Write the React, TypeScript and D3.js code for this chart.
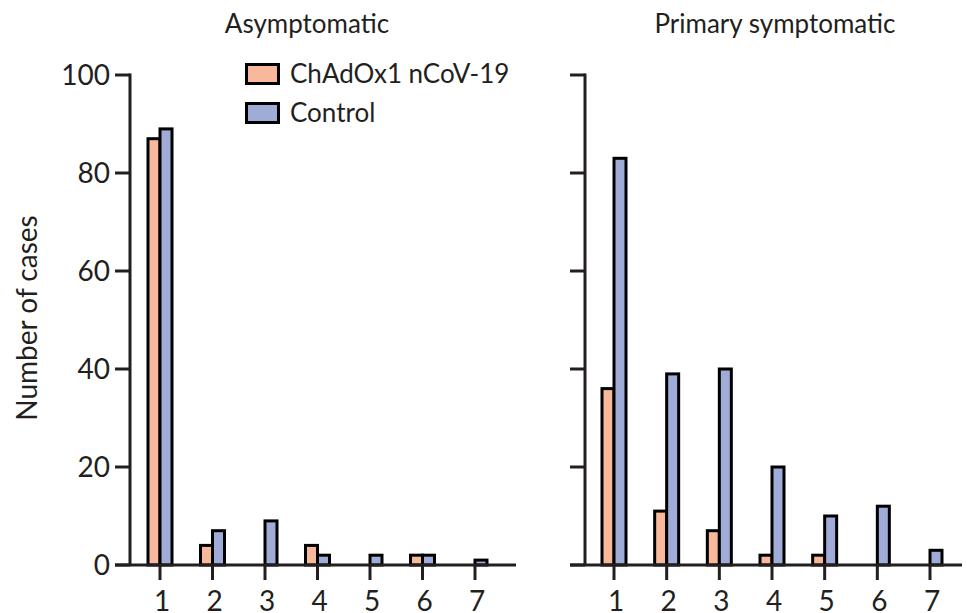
import React from "react";
import * as d3 from "d3";

const categories = [1, 2, 3, 4, 5, 6, 7];
const asymVaccine = [87, 4, 0, 4, 0, 2, 0];
const asymControl = [89, 7, 9, 2, 2, 2, 1];
const sympVaccine = [36, 11, 7, 2, 2, 0, 0];
const sympControl = [83, 39, 40, 20, 10, 12, 3];
const yTicks = [0, 20, 40, 60, 80, 100];
const seriesNames = ["ChAdOx1 nCoV-19", "Control"];
const panelTitles = ["Asymptomatic", "Primary symptomatic"];

const W = 967;
const H = 613;
const ORANGE = "#F8B89B";
const BLUE = "#9EACD7";
const INK = "#231F20";
const FONT = "Lato, 'Open Sans', sans-serif";

const y = d3.scaleLinear().domain([0, 100]).range([565, 75]);

type PanelProps = {
  axisX: number;
  xStart: number;
  xEnd: number;
  lineEnd: number;
  titleX: number;
  title: string;
  vac: number[];
  ctl: number[];
  showLabels: boolean;
};

function Panel({ axisX, xStart, xEnd, lineEnd, titleX, title, vac, ctl, showLabels }: PanelProps) {
  const x = d3.scalePoint<number>().domain(categories).range([xStart, xEnd]);
  const bw = 12;
  const tickLen = 15;
  return (
    <g>
      <text x={titleX} y={33} textAnchor="middle" fontSize={26} fill={INK} fontFamily={FONT}>
        {title}
      </text>
      {categories.map((c, i) => (
        <g key={c}>
          {vac[i] > 0 && (
            <rect
              x={(x(c) as number) - bw}
              y={y(vac[i])}
              width={bw}
              height={y(0) - y(vac[i])}
              fill={ORANGE}
              stroke="#000"
              strokeWidth={3}
            />
          )}
          {ctl[i] > 0 && (
            <rect
              x={x(c) as number}
              y={y(ctl[i])}
              width={bw}
              height={y(0) - y(ctl[i])}
              fill={BLUE}
              stroke="#000"
              strokeWidth={3}
            />
          )}
        </g>
      ))}
      <line x1={axisX} x2={axisX} y1={y(100) - 1.5} y2={y(0)} stroke={INK} strokeWidth={3} />
      {yTicks.map((t) => (
        <g key={t}>
          <line x1={axisX - tickLen} x2={axisX} y1={y(t)} y2={y(t)} stroke={INK} strokeWidth={3} />
          {showLabels && (
            <text
              x={axisX - tickLen - 5}
              y={y(t)}
              dy="0.35em"
              textAnchor="end"
              fontSize={28}
              fill={INK}
              fontFamily={FONT}
            >
              {t}
            </text>
          )}
        </g>
      ))}
      <line x1={axisX - tickLen} x2={lineEnd} y1={y(0)} y2={y(0)} stroke={INK} strokeWidth={3} />
      {categories.map((c) => (
        <g key={c}>
          <line
            x1={x(c) as number}
            x2={x(c) as number}
            y1={y(0)}
            y2={y(0) + 15}
            stroke={INK}
            strokeWidth={3}
          />
          <text
            x={(x(c) as number) + 2}
            y={611}
            textAnchor="middle"
            fontSize={28}
            fill={INK}
            fontFamily={FONT}
          >
            {c}
          </text>
        </g>
      ))}
    </g>
  );
}

export default function App() {
  return (
    <svg width={W} height={H} style={{ position: "absolute", left: 0, top: 0, background: "#fff" }}>
      <rect x={0} y={0} width={W} height={H} fill="#fff" />
      <text
        transform={`translate(37, 318) rotate(-90)`}
        textAnchor="middle"
        fontSize={28}
        fill={INK}
        fontFamily={FONT}
      >
        Number of cases
      </text>
      <Panel
        axisX={130}
        xStart={160}
        xEnd={475}
        lineEnd={516}
        titleX={307}
        title={panelTitles[0]}
        vac={asymVaccine}
        ctl={asymControl}
        showLabels={true}
      />
      <Panel
        axisX={585}
        xStart={614}
        xEnd={930}
        lineEnd={962}
        titleX={775}
        title={panelTitles[1]}
        vac={sympVaccine}
        ctl={sympControl}
        showLabels={false}
      />
      {seriesNames.map((name, i) => (
        <g key={name} transform={`translate(0, ${i * 39})`}>
          <rect x={246.5} y={64.5} width={32} height={19} fill={i === 0 ? ORANGE : BLUE} stroke="#000" strokeWidth={3} />
          <text x={290} y={74} dy="0.35em" fontSize={26} fill={INK} fontFamily={FONT}>
            {name}
          </text>
        </g>
      ))}
    </svg>
  );
}
